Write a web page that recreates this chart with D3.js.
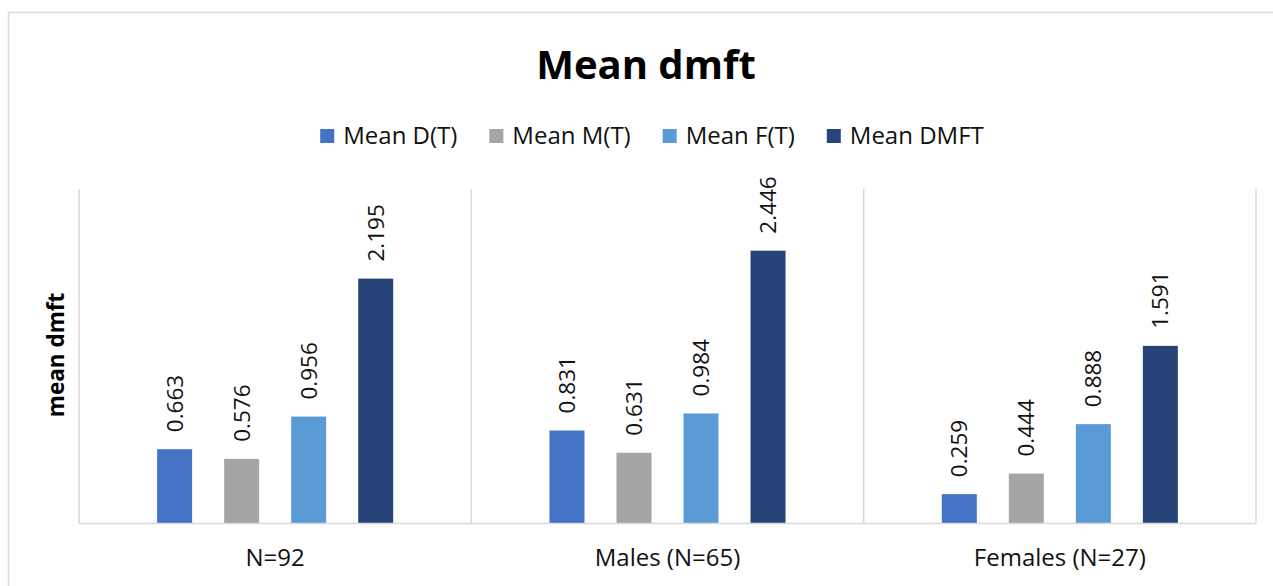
<!DOCTYPE html>
<html>
<head>
<meta charset="utf-8">
<script src="https://cdn.jsdelivr.net/npm/d3@7"></script>
<style>
  html, body { margin: 0; padding: 0; background: #fff; }
  svg { display: block; font-family: "Open Sans", "Liberation Sans", sans-serif; }
</style>
</head>
<body>
<svg id="chart" width="1273" height="586"></svg>
<script>
// Mean dmft by group
const categories = ["N=92", "Males (N=65)", "Females (N=27)"];
const seriesNames = ["Mean D(T)", "Mean M(T)", "Mean F(T)", "Mean DMFT"];
const meanD = [0.663, 0.831, 0.259];
const meanM = [0.576, 0.631, 0.444];
const meanF = [0.956, 0.984, 0.888];
const meanDMFT = [2.195, 2.446, 1.591];
const seriesValues = [meanD, meanM, meanF, meanDMFT];
const colors = ["#4472C4", "#A5A5A5", "#5B9BD5", "#264478"];

const svg = d3.select("#chart");
const W = 1273, H = 586;
const plot = { left: 79, right: 1256, top: 189, bottom: 523 };
const gridColor = "#d9d9d9";

// chart frame
svg.append("path")
  .attr("d", `M8.5,${H} V12.5 H${W}`)
  .attr("fill", "none")
  .attr("stroke", gridColor)
  .attr("stroke-width", 1.5);

// title
svg.append("text")
  .attr("x", 646).attr("y", 79)
  .attr("text-anchor", "middle")
  .attr("font-weight", "bold")
  .attr("font-size", 40)
  .attr("fill", "#000")
  .text("Mean dmft");

// scales
const x = d3.scaleBand().domain(categories).range([plot.left, plot.right]);
const xs = d3.scaleBand().domain(seriesNames).range([0, x.bandwidth()])
  .paddingInner(0.478).paddingOuter(1.166);
const y = d3.scaleLinear().domain([0, 3]).range([plot.bottom, plot.top]);

// category separators and plot borders
const bounds = [plot.left].concat(categories.map(c => x(c) + x.bandwidth()));
svg.append("g").selectAll("line").data(bounds).join("line")
  .attr("x1", d => d).attr("x2", d => d)
  .attr("y1", plot.top).attr("y2", plot.bottom)
  .attr("stroke", gridColor).attr("stroke-width", 1.5);

// bars
const rows = categories.map((c, i) => ({
  cat: c,
  vals: seriesNames.map((s, j) => ({ s, j, v: seriesValues[j][i] }))
}));

const groups = svg.append("g").selectAll("g").data(rows).join("g")
  .attr("transform", d => `translate(${x(d.cat)},0)`);

groups.selectAll("rect").data(d => d.vals).join("rect")
  .attr("x", d => xs(d.s))
  .attr("width", xs.bandwidth())
  .attr("y", d => y(d.v))
  .attr("height", d => y(0) - y(d.v))
  .attr("fill", d => colors[d.j]);

// value labels, rotated above each bar
groups.selectAll("text").data(d => d.vals).join("text")
  .attr("transform", d => `translate(${xs(d.s) + xs.bandwidth() / 2},${y(d.v) - 17}) rotate(-90)`)
  .attr("dy", "0.36em")
  .attr("font-size", 22.5)
  .attr("fill", "#111")
  .text(d => d.v.toFixed(3));

// x axis line + category labels
const xAxis = d3.axisBottom(x).tickSize(0).tickPadding(26);
const gx = svg.append("g").attr("transform", `translate(0,${plot.bottom})`).call(xAxis);
gx.select(".domain").attr("stroke", gridColor).attr("stroke-width", 1.5)
  .attr("d", `M${plot.left},0.5H${plot.right}`);
gx.selectAll(".tick text")
  .attr("font-family", "\"Open Sans\", sans-serif")
  .attr("font-size", 24)
  .attr("fill", "#111")
  .attr("dy", "0.71em");

// y axis title
svg.append("text")
  .attr("transform", `translate(64,355) rotate(-90)`)
  .attr("text-anchor", "middle")
  .attr("font-weight", "bold")
  .attr("font-size", 22.5)
  .attr("fill", "#000")
  .text("mean dmft");

// legend
const legend = svg.append("g");
const items = legend.selectAll("g").data(seriesNames).join("g");
items.append("rect")
  .attr("width", 14).attr("height", 14)
  .attr("y", -15)
  .attr("fill", (d, i) => colors[i]);
items.append("text")
  .attr("x", 23)
  .attr("font-size", 24)
  .attr("fill", "#111")
  .text(d => d);
let cx = 0;
items.each(function () {
  const g = d3.select(this);
  const w = 23 + g.select("text").node().getComputedTextLength();
  g.attr("transform", `translate(${cx},0)`);
  cx += w + 32;
});
const legendW = cx - 32;
legend.attr("transform", `translate(${652 - legendW / 2},144)`);
</script>
</body>
</html>
